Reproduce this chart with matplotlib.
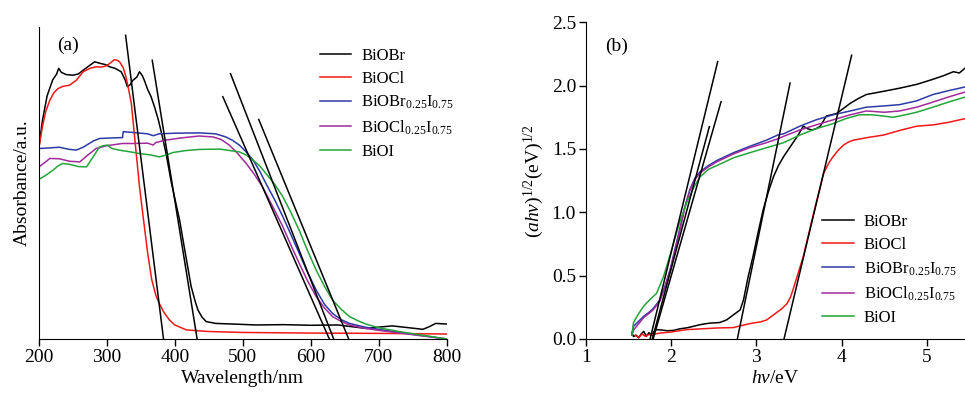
import numpy as np
import matplotlib
matplotlib.use('Agg')
import matplotlib.pyplot as plt

plt.rcParams['font.family'] = ['Liberation Serif', 'DejaVu Serif']
plt.rcParams['mathtext.fontset'] = 'custom'
plt.rcParams['mathtext.rm'] = 'Liberation Serif'
plt.rcParams['mathtext.it'] = 'Liberation Serif:italic'

labels = ['BiOBr', 'BiOCl', r'BiOBr$_{0.25}$I$_{0.75}$',
          r'BiOCl$_{0.25}$I$_{0.75}$', 'BiOI']
colors = ['black', '#f01818', '#2c3aa6', '#a22a9c', '#23a43c']

# ---- (a) absorbance spectra ----
wl_br = [200, 205, 212, 220, 226, 229, 233, 240, 250, 258, 265, 275, 282, 290, 298, 304,
         312, 321, 327, 330, 334, 338, 344, 348, 352, 355, 360, 365, 370, 376, 382, 387,
         395, 400, 407, 415, 424, 430, 434, 440, 446, 460, 485, 520, 560, 600, 640, 681,
         700, 720, 745, 765, 775, 784, 800]
ab_br = [0.616, 0.70, 0.78, 0.83, 0.85, 0.868, 0.855, 0.848, 0.846, 0.85, 0.862, 0.878,
         0.889, 0.884, 0.88, 0.873, 0.868, 0.857, 0.83, 0.809, 0.815, 0.829, 0.84, 0.857,
         0.845, 0.83, 0.80, 0.777, 0.745, 0.70, 0.645, 0.595, 0.50, 0.45, 0.381, 0.28,
         0.168, 0.12, 0.093, 0.07, 0.056, 0.05, 0.048, 0.045, 0.046, 0.044, 0.045, 0.034,
         0.038, 0.042, 0.036, 0.031, 0.04, 0.05, 0.048]

wl_cl = [200, 205, 210, 216, 222, 228, 235, 245, 255, 265, 275, 284, 292, 299, 305, 311,
         316, 319, 324, 328, 332, 336, 342, 348, 354, 360, 366, 372, 377, 384, 392, 400,
         417, 450, 500, 600, 700, 800]
ab_cl = [0.616, 0.68, 0.73, 0.766, 0.79, 0.803, 0.81, 0.814, 0.83, 0.857, 0.868, 0.873,
         0.872, 0.876, 0.885, 0.896, 0.893, 0.888, 0.87, 0.841, 0.80, 0.755, 0.62, 0.488,
         0.38, 0.275, 0.19, 0.14, 0.114, 0.085, 0.061, 0.045, 0.029, 0.024, 0.021, 0.019,
         0.018, 0.016]

wl_bri = [200, 210, 230, 245, 255, 265, 280, 289, 310, 323, 324, 340, 360, 368, 377, 400,
          436, 460, 475, 485, 495, 505, 515, 525, 534, 547, 559, 571, 583, 595, 608, 620,
          632, 645, 657, 680, 706, 750, 800]
ab_bri = [0.611, 0.612, 0.615, 0.608, 0.606, 0.615, 0.635, 0.643, 0.645, 0.646, 0.665,
          0.662, 0.658, 0.652, 0.658, 0.66, 0.661, 0.658, 0.648, 0.637, 0.622, 0.60, 0.574,
          0.538, 0.499, 0.446, 0.392, 0.334, 0.275, 0.215, 0.157, 0.112, 0.082, 0.062,
          0.05, 0.038, 0.029, 0.015, 0.0]

wl_cli = [200, 208, 216, 230, 245, 260, 272, 284, 300, 323, 340, 360, 368, 372, 387, 410,
          436, 456, 468, 480, 492, 505, 517, 529, 544, 559, 571, 583, 595, 608, 620, 632,
          645, 657, 680, 706, 750, 800]
ab_cli = [0.552, 0.565, 0.579, 0.578, 0.57, 0.568, 0.59, 0.611, 0.62, 0.627, 0.627, 0.628,
          0.622, 0.63, 0.638, 0.645, 0.651, 0.648, 0.64, 0.622, 0.596, 0.563, 0.528, 0.488,
          0.425, 0.36, 0.30, 0.243, 0.188, 0.136, 0.10, 0.072, 0.056, 0.045, 0.034, 0.026,
          0.014, 0.0]

wl_i = [200, 210, 221, 228, 235, 245, 258, 270, 280, 289, 295, 301, 305, 309, 320, 335,
        348, 365, 377, 387, 397, 415, 436, 466, 495, 505, 515, 525, 534, 547, 559, 571,
        583, 595, 608, 620, 632, 645, 657, 670, 681, 700, 730, 765, 800]
ab_i = [0.512, 0.525, 0.542, 0.555, 0.563, 0.56, 0.553, 0.552, 0.585, 0.616, 0.62, 0.622,
        0.614, 0.61, 0.605, 0.60, 0.595, 0.59, 0.584, 0.59, 0.598, 0.604, 0.608, 0.609,
        0.60, 0.59, 0.574, 0.555, 0.531, 0.496, 0.456, 0.405, 0.349, 0.285, 0.221, 0.17,
        0.125, 0.095, 0.072, 0.058, 0.048, 0.036, 0.024, 0.012, 0.0]

# tangent lines (x0, y0, x1, y1)
tan_a = [(327.5, 0.974, 383.3, 0.0), (366.7, 0.894, 432.8, 0.0),
         (470.6, 0.777, 627.4, 0.0), (481.9, 0.851, 633.8, 0.0),
         (523.5, 0.704, 655.9, 0.0)]

# ---- (b) Tauc plot ----
ev_br = [1.54, 1.56, 1.59, 1.62, 1.65, 1.68, 1.71, 1.74, 1.77, 1.80, 1.83, 1.90, 1.96,
         2.03, 2.10, 2.20, 2.34, 2.45, 2.57, 2.65, 2.73, 2.81, 2.85, 2.90, 2.96, 3.02,
         3.08, 3.14, 3.20, 3.26, 3.32, 3.38, 3.43, 3.49, 3.55, 3.60, 3.65, 3.70, 3.75,
         3.82, 3.88, 3.94, 4.02, 4.10, 4.20, 4.29, 4.45, 4.68, 4.88, 5.07, 5.20, 5.31,
         5.38, 5.45]
tc_br = [0.05, 0.02, 0.03, 0.01, 0.04, 0.06, 0.02, 0.05, 0.03, 0.06, 0.074, 0.07, 0.065,
         0.068, 0.08, 0.09, 0.113, 0.125, 0.13, 0.15, 0.19, 0.23, 0.31, 0.48, 0.65, 0.84,
         1.02, 1.16, 1.28, 1.37, 1.44, 1.50, 1.55, 1.61, 1.68, 1.66, 1.65, 1.66, 1.68,
         1.76, 1.77, 1.78, 1.82, 1.86, 1.90, 1.93, 1.95, 1.98, 2.01, 2.05, 2.08, 2.11,
         2.10, 2.14]

ev_cl = [1.58, 1.62, 1.66, 1.70, 1.74, 1.78, 1.82, 1.87, 2.00, 2.18, 2.35, 2.54, 2.73,
         2.85, 2.96, 3.05, 3.12, 3.18, 3.24, 3.30, 3.36, 3.40, 3.43, 3.49, 3.55, 3.61,
         3.67, 3.73, 3.79, 3.85, 3.90, 3.96, 4.02, 4.08, 4.14, 4.30, 4.49, 4.70, 4.88,
         5.07, 5.25, 5.45]
tc_cl = [0.03, 0.01, 0.04, 0.02, 0.035, 0.03, 0.04, 0.047, 0.055, 0.074, 0.08, 0.087,
         0.09, 0.11, 0.126, 0.135, 0.15, 0.18, 0.21, 0.24, 0.28, 0.33, 0.39, 0.52, 0.65,
         0.82, 0.99, 1.15, 1.31, 1.39, 1.44, 1.49, 1.53, 1.555, 1.57, 1.59, 1.61, 1.65,
         1.68, 1.69, 1.71, 1.74]

ev_mix = [1.54, 1.56, 1.62, 1.68, 1.74, 1.79, 1.87, 1.93, 1.99, 2.05, 2.11, 2.16, 2.22,
          2.28, 2.34, 2.44, 2.54, 2.73, 2.92, 3.12, 3.25, 3.32, 3.51, 3.70, 3.90, 4.10,
          4.29, 4.50, 4.68, 4.88, 5.07, 5.25, 5.45]
tc_bri = [0.03, 0.10, 0.14, 0.18, 0.21, 0.24, 0.31, 0.42, 0.55, 0.72, 0.89, 1.04, 1.18,
          1.27, 1.32, 1.37, 1.41, 1.47, 1.52, 1.57, 1.61, 1.62, 1.68, 1.73, 1.77, 1.80,
          1.83, 1.84, 1.85, 1.88, 1.93, 1.96, 1.99]
tc_cli = [0.03, 0.07, 0.12, 0.17, 0.20, 0.23, 0.30, 0.41, 0.54, 0.71, 0.88, 1.03, 1.17,
          1.26, 1.31, 1.36, 1.40, 1.46, 1.51, 1.55, 1.58, 1.60, 1.65, 1.69, 1.73, 1.77,
          1.80, 1.79, 1.80, 1.83, 1.87, 1.91, 1.95]

ev_i = [1.54, 1.56, 1.62, 1.68, 1.75, 1.83, 1.91, 1.97, 2.03, 2.10, 2.18, 2.26, 2.34,
        2.44, 2.54, 2.73, 2.92, 3.12, 3.32, 3.51, 3.70, 3.90, 4.05, 4.21, 4.35, 4.49,
        4.60, 4.68, 4.88, 5.07, 5.25, 5.45]
tc_i = [0.03, 0.13, 0.20, 0.26, 0.31, 0.36, 0.49, 0.62, 0.76, 0.92, 1.07, 1.19, 1.28,
        1.34, 1.37, 1.43, 1.47, 1.51, 1.55, 1.61, 1.66, 1.70, 1.74, 1.77, 1.77, 1.76,
        1.75, 1.76, 1.79, 1.83, 1.87, 1.91]

tan_b = [(1.754, 0.0, 2.547, 2.19), (1.79, 0.0, 2.586, 1.873),
         (1.78, 0.0, 2.449, 1.676), (2.777, 0.0, 3.395, 2.02),
         (3.324, 0.0, 4.117, 2.24)]

fig = plt.figure(figsize=(9.65, 3.94), dpi=100)
axa = fig.add_axes([0.0404, 0.1396, 0.4224, 0.7914])
axb = fig.add_axes([0.607, 0.1396, 0.393, 0.8038])

lw = 1.1
leg_kw = dict(loc='upper left', frameon=False, fontsize=12, handlelength=1.9,
              handletextpad=0.6, labelspacing=0.42, borderaxespad=0)

series_a = [(wl_br, ab_br), (wl_cl, ab_cl), (wl_bri, ab_bri), (wl_cli, ab_cli), (wl_i, ab_i)]
for (x, y), c, lab in zip(series_a, colors, labels):
    axa.plot(x, y, color=c, lw=lw, label=lab)
for x0, y0, x1, y1 in tan_a:
    axa.plot([x0, x1], [y0, y1], color='black', lw=lw)

axa.set_xlim(200, 800)
axa.set_ylim(0, 1.0)
axa.set_xticks([200, 300, 400, 500, 600, 700, 800])
axa.set_yticks([])
axa.spines['top'].set_visible(False)
axa.spines['right'].set_visible(False)
axa.tick_params(axis='x', direction='out', length=5, width=1, labelsize=14, pad=2)
axa.set_xlabel('Wavelength/nm', fontsize=14, labelpad=3)
axa.set_ylabel('Absorbance/a.u.', fontsize=14, labelpad=6)
axa.text(0.045, 0.97, '(a)', transform=axa.transAxes, fontsize=14, ha='left', va='top')
axa.legend(bbox_to_anchor=(0.672, 0.955), **leg_kw)

series_b = [(ev_br, tc_br), (ev_cl, tc_cl), (ev_mix, tc_bri), (ev_mix, tc_cli), (ev_i, tc_i)]
for (x, y), c, lab in zip(series_b, colors, labels):
    axb.plot(x, y, color=c, lw=lw, label=lab)
for x0, y0, x1, y1 in tan_b:
    axb.plot([x0, x1], [y0, y1], color='black', lw=lw)

axb.set_xlim(1, 5.446)
axb.set_ylim(0, 2.5)
axb.set_xticks([1, 2, 3, 4, 5])
axb.set_yticks(np.arange(0, 2.51, 0.5))
axb.yaxis.set_major_formatter(matplotlib.ticker.FormatStrFormatter('%.1f'))
axb.spines['top'].set_visible(False)
axb.spines['right'].set_visible(False)
axb.tick_params(direction='out', length=5, width=1, labelsize=14, pad=2)
axb.set_xlabel(r'$hv$/eV', fontsize=14, labelpad=3)
axb.set_ylabel(r'$(ahv)^{1/2}(\mathrm{eV})^{1/2}$', fontsize=14, labelpad=4)
axb.text(0.05, 0.95, '(b)', transform=axb.transAxes, fontsize=14, ha='left', va='top')
axb.legend(bbox_to_anchor=(0.605, 0.415), **leg_kw)

fig.savefig('out.png', dpi=100)
